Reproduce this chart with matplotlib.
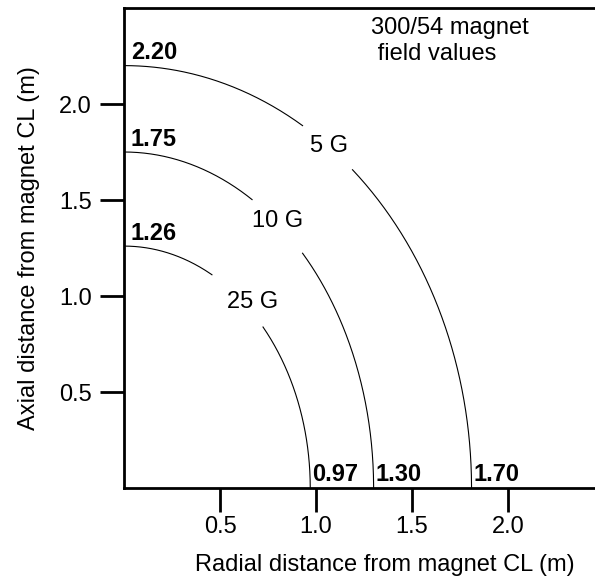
import numpy as np
import matplotlib.pyplot as plt

plt.rcParams['font.family'] = ['Liberation Sans', 'DejaVu Sans']

# field contours (ellipse quarter arcs), outermost first
field_names = ["5 G", "10 G", "25 G"]
axial_reach = [2.20, 1.75, 1.26]        # where each contour meets the axial axis
radial_reach = [1.81, 1.30, 0.97]       # where each contour meets the radial axis (as drawn)
axial_labels = ["2.20", "1.75", "1.26"]
radial_labels = ["1.70", "1.30", "0.97"]
gap_x = [(0.93, 1.19), (0.667, 0.93), (0.458, 0.724)]   # radial range left open for the name
name_pos = [(1.07, 1.78), (0.80, 1.39), (0.67, 0.97)]

xticks = [0.5, 1.0, 1.5, 2.0]
yticks = [0.5, 1.0, 1.5, 2.0]

fig = plt.figure(figsize=(5.95, 5.8), dpi=100)
ax = fig.add_axes([0.2084, 0.1586, 0.7916, 0.8276])
ax.set_xlim(0, 2.453)
ax.set_ylim(0, 2.5)

for name, b, a, (g0, g1), (nx, ny), ltop, lbot in zip(field_names, axial_reach, radial_reach,
                                                      gap_x, name_pos, axial_labels, radial_labels):
    t0 = np.arcsin(g0 / a)
    t1 = np.arcsin(g1 / a)
    for lo, hi in [(0, t0), (t1, np.pi / 2)]:
        t = np.linspace(lo, hi, 200)
        ax.plot(a * np.sin(t), b * np.cos(t), color='black', lw=0.8)
    ax.text(nx, ny, name, fontsize=17, ha='center', va='center')
    ax.annotate(ltop, (0, b), xytext=(5, 4.5), textcoords='offset points',
                fontsize=17, fontweight='bold', ha='left', va='baseline')
    ax.annotate(lbot, (a, 0), xytext=(1.5, 5), textcoords='offset points',
                fontsize=17, fontweight='bold', ha='left', va='baseline')

ax.text(0.525, 0.982, "300/54 magnet\n field values", transform=ax.transAxes,
        fontsize=17, ha='left', va='top', linespacing=1.27)

ax.set_xticks(xticks)
ax.set_yticks(yticks)
ax.set_xticklabels([f"{v:.1f}" for v in xticks])
ax.set_yticklabels([f"{v:.1f}" for v in yticks])
ax.tick_params(axis='both', direction='out', length=17, width=2, labelsize=17)
ax.tick_params(axis='x', pad=3)
ax.tick_params(axis='y', pad=6)
for s in ['left', 'bottom', 'top']:
    ax.spines[s].set_linewidth(2)
ax.spines['right'].set_visible(False)

ax.set_xlabel("Radial distance from magnet CL (m)", fontsize=17)
ax.xaxis.set_label_coords(0.554, -0.138)
ax.set_ylabel("Axial distance from magnet CL (m)", fontsize=17, labelpad=14)

fig.savefig("out.png", dpi=100)
